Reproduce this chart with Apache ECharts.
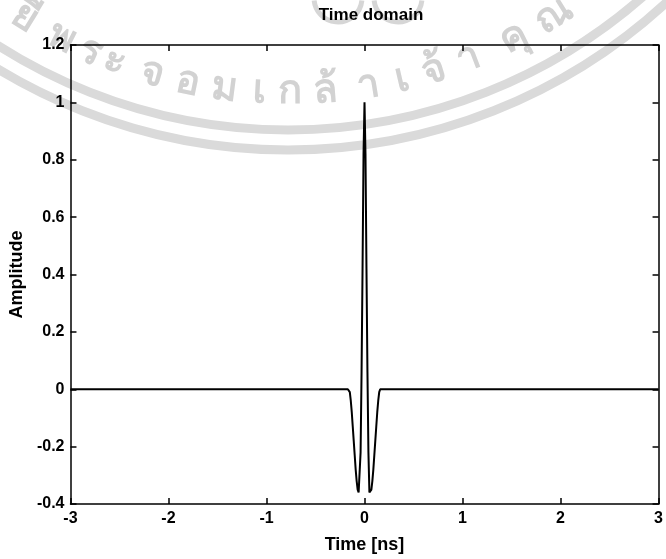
<!DOCTYPE html>
<html>
<head>
<meta charset="utf-8">
<script src="https://cdn.jsdelivr.net/npm/echarts@6/dist/echarts.min.js"></script>
<style>
  html, body { margin: 0; padding: 0; background: #fff; }
  #chart { width: 666px; height: 559px; }
</style>
</head>
<body>
<div id="chart"></div>
<script>
// Pulse samples: time in ns and normalised amplitude
const timeNs = [-3, -0.17, -0.16, -0.15, -0.14, -0.13, -0.12, -0.11, -0.10, -0.09, -0.08, -0.07, -0.06, -0.05, -0.04, -0.03, -0.02, -0.01, 0,
                0.01, 0.02, 0.03, 0.04, 0.05, 0.06, 0.07, 0.08, 0.09, 0.10, 0.11, 0.12, 0.13, 0.14, 0.15, 0.16, 0.17, 3];
const amplitude = [0, 0, 0, -0.01, -0.04, -0.08, -0.13, -0.18, -0.23, -0.28, -0.32, -0.35, -0.36, -0.36, -0.22, 0.06, 0.42, 0.82, 1.0,
                   0.82, 0.42, 0.06, -0.22, -0.36, -0.36, -0.35, -0.32, -0.28, -0.23, -0.18, -0.13, -0.08, -0.04, -0.01, 0, 0, 0];

// Axis ranges and tick steps
const xRange = [-3, 3], xStep = 1;
const yRange = [-0.4, 1.2], yStep = 0.2;

// Seal text arranged along an arc behind the plot
const sealGlyphs = ['ยี', 'พ', 'ร', 'ะ', 'จ', 'อ', 'ม', 'เ', 'ก', 'ล้', 'า', 'เ', 'จ้', 'า', 'คุ', 'ณ'];
const sealGlyphX = [25, 62, 90, 115, 152, 188, 224, 260, 290, 326, 368, 402, 434, 468, 514, 554];

const chart = echarts.init(document.getElementById('chart'), null, { renderer: 'canvas' });

const FONT = '"Liberation Sans", Arial, Helvetica, sans-serif';
const seal = { cx: 288, cy: -409, rText: 501, rBand1: 539, rBand2: 559 };
const sealColor = '#d2d2d2';

const graphics = [];
[seal.rBand1, seal.rBand2].forEach(r => {
  graphics.push({
    type: 'arc', z: -10, silent: true,
    shape: { cx: seal.cx, cy: seal.cy, r: r, startAngle: 0, endAngle: Math.PI },
    style: { stroke: '#dadada', fill: null, lineWidth: 9 }
  });
});
// emblem loops at the top of the seal
[[338, -2, 24], [398, -2, 24]].forEach(([cx, cy, r]) => {
  graphics.push({
    type: 'arc', z: -10, silent: true,
    shape: { cx: cx, cy: cy, r: r, startAngle: 0.1, endAngle: Math.PI - 0.1 },
    style: { stroke: '#d6d6d6', fill: null, lineWidth: 5 }
  });
});
sealGlyphs.forEach((g, i) => {
  const s = (sealGlyphX[i] - seal.cx) / seal.rText;
  const phi = Math.asin(Math.max(-1, Math.min(1, s)));
  graphics.push({
    type: 'text', z: -10, silent: true,
    x: seal.cx + seal.rText * Math.sin(phi),
    y: seal.cy + seal.rText * Math.cos(phi),
    rotation: phi,
    style: {
      text: g, fill: sealColor, font: 'bold 40px "Noto Sans", "DejaVu Sans", sans-serif',
      align: 'center', verticalAlign: 'middle'
    }
  });
});

const fmtY = v => String(Math.round(v * 10) / 10);

const labelStyle = { color: '#000', fontFamily: FONT, fontWeight: 'bold', fontSize: 16 };
const nameStyle = { color: '#000', fontFamily: FONT, fontWeight: 'bold', fontSize: 18 };
const lineStyle = { color: '#000', width: 1.5 };
const boxLine = { show: true, onZero: false, lineStyle: lineStyle };
const boxTick = { show: true, inside: true, length: 6, lineStyle: lineStyle };

chart.setOption({
  backgroundColor: '#fff',
  animation: false,
  graphic: graphics,
  title: {
    text: 'Time domain',
    left: 366, top: 2, textAlign: 'center',
    textStyle: { color: '#000', fontFamily: FONT, fontWeight: 'bold', fontSize: 17 }
  },
  grid: { left: 70, right: 3, top: 45, bottom: 48, containLabel: false },
  xAxis: [
    {
      type: 'value', min: xRange[0], max: xRange[1], interval: xStep, position: 'bottom',
      name: 'Time [ns]', nameLocation: 'middle', nameGap: 32, nameTextStyle: nameStyle,
      axisLine: boxLine, axisTick: boxTick,
      axisLabel: Object.assign({ margin: 7, formatter: v => String(v) }, labelStyle),
      splitLine: { show: false }
    },
    {
      type: 'value', min: xRange[0], max: xRange[1], interval: xStep, position: 'top',
      axisLine: boxLine, axisTick: boxTick,
      axisLabel: { show: false }, splitLine: { show: false }
    }
  ],
  yAxis: [
    {
      type: 'value', min: yRange[0], max: yRange[1], interval: yStep, position: 'left',
      name: 'Amplitude', nameLocation: 'middle', nameGap: 33, nameTextStyle: nameStyle,
      axisLine: boxLine, axisTick: boxTick,
      axisLabel: Object.assign({ margin: 6, formatter: fmtY }, labelStyle),
      splitLine: { show: false }
    },
    {
      type: 'value', min: yRange[0], max: yRange[1], interval: yStep, position: 'right',
      axisLine: boxLine, axisTick: boxTick,
      axisLabel: { show: false }, splitLine: { show: false }
    }
  ],
  series: [
    {
      type: 'line',
      xAxisIndex: 0, yAxisIndex: 0,
      data: timeNs.map((t, i) => [t, amplitude[i]]),
      showSymbol: false, symbol: 'none',
      lineStyle: { color: '#000', width: 2 },
      clip: true
    }
  ]
});
</script>
</body>
</html>
